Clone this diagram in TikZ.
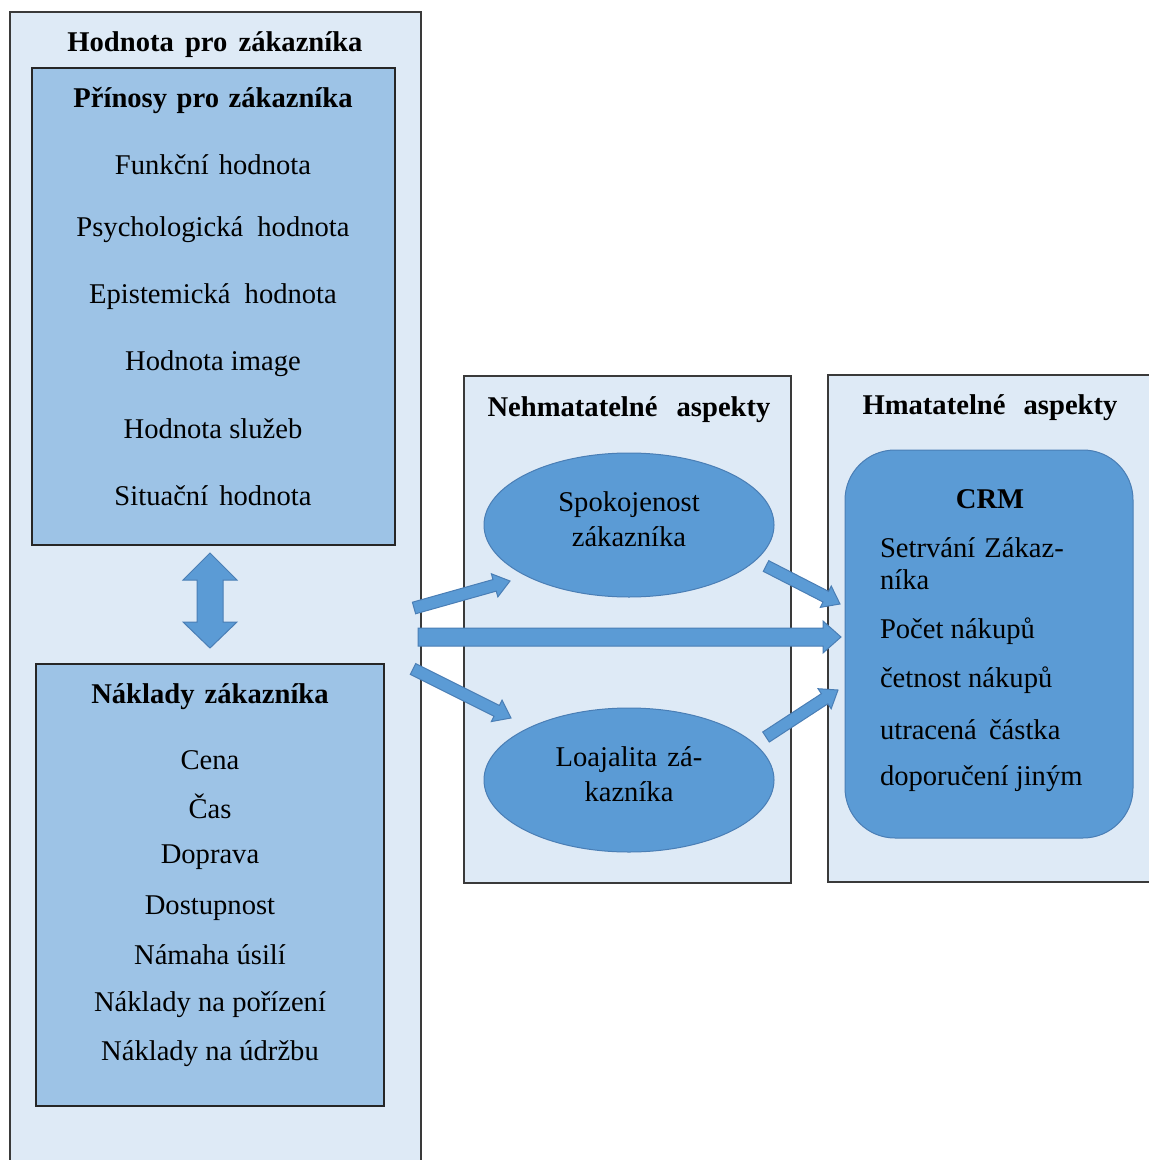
\documentclass[tikz,border=0pt]{standalone}
\usepackage{fontspec}
\setmainfont{Liberation Serif}
\usetikzlibrary{calc,shapes.geometric}

\definecolor{panelfill}{HTML}{DEEAF6}
\definecolor{boxfill}{HTML}{9DC3E6}
\definecolor{accent}{HTML}{5B9BD5}
\definecolor{accentedge}{HTML}{4A7EB5}
\definecolor{frame}{HTML}{3A3A3A}

\tikzset{
  txt/.style={font=\fontsize{14.3}{17.5}\selectfont, inner sep=0pt, outer sep=0pt},
  head/.style={font=\fontsize{14.3}{17.5}\selectfont\bfseries, inner sep=0pt, outer sep=0pt},
  panel/.style={draw=frame, line width=1pt, fill=panelfill, inner sep=0pt, outer sep=0pt, anchor=north west},
  listbox/.style={draw=black!85, line width=1pt, fill=boxfill, inner sep=0pt, outer sep=0pt, anchor=north west},
  blob/.style={draw=accentedge, line width=0.5pt, fill=accent, inner sep=0pt, outer sep=0pt},
  blockarrow/.style={draw=accentedge, line width=0.5pt, fill=accent, line join=miter},
}

% widened inter-word gap, as in justified lines
\newcommand{\wsp}[1]{\hspace{#1}\ }

% block arrow from #1 to #2: shaft half width #3, head half width #4, head length #5
\newcommand{\flowarrow}[5]{%
  \coordinate (fa-base) at ($(#2)!#5!(#1)$);
  \draw[blockarrow] ($(#1)!#3!90:(#2)$) -- ($(fa-base)!#3!90:(#2)$)
    -- ($(fa-base)!#4!90:(#2)$) -- (#2) -- ($(fa-base)!#4!-90:(#2)$)
    -- ($(fa-base)!#3!-90:(#2)$) -- ($(#1)!#3!-90:(#2)$) -- cycle;
}

\begin{document}
\begin{tikzpicture}[x=0.5pt, y=-0.5pt]
\useasboundingbox (0,0) rectangle (1149,1160);
\clip (0,0) rectangle (1149,1160);

% left panel: value for the customer
\node[panel, minimum width=205.5pt, minimum height=590pt] (value) at (10,12) {};
\node[head] (valuetitle) at (215,45) {Hodnota\wsp{2pt}pro\wsp{2pt}zákazníka};

\node[listbox, minimum width=181.5pt, minimum height=238.5pt] (benefits) at (32,68) {};
\node[head] (benefitstitle) at (213,101) {Přínosy\wsp{1.2pt}pro\wsp{1.2pt}zákazníka};
\foreach \t/\y [count=\k] in {Funkční\wsp{1.5pt}hodnota/165, Psychologická\wsp{3.5pt}hodnota/230,
    Epistemická\wsp{3.5pt}hodnota/297, Hodnota image/364, Hodnota služeb/429,
    Situační\wsp{2pt}hodnota/496}
  \node[txt] (ben\k) at (213,\y) {\t};

% two-way arrow between benefits and costs
\coordinate (dtop) at (210,553);
\coordinate (dbot) at (210,648);
\draw[blockarrow] (dtop) -- (237,580) -- (223,580) -- (223,622) -- (237,622) -- (dbot)
  -- (183,622) -- (197,622) -- (197,580) -- (183,580) -- cycle;

\node[listbox, minimum width=174pt, minimum height=221pt] (costs) at (36,664) {};
\node[head] (coststitle) at (210,697) {Náklady\wsp{1.5pt}zákazníka};
\foreach \t/\y [count=\k] in {Cena/760, Čas/806, Doprava/857, Dostupnost/908,
    Námaha úsilí/955, Náklady na pořízení/1005, Náklady na údržbu/1054}
  \node[txt] (cost\k) at (210,\y) {\t};

% middle panel: intangible aspects
\node[panel, minimum width=163.5pt, minimum height=253.5pt] (intang) at (464,376) {};
\node[head] (intangtitle) at (629,410) {Nehmatatelné\wsp{6pt}aspekty};
\node[blob, ellipse, minimum width=145pt, minimum height=72pt] (satisf) at (629,525) {};
\node[txt, align=center] (satisftext) at (629,519) {Spokojenost\\zákazníka};
\node[blob, ellipse, minimum width=145pt, minimum height=72pt] (loyal) at (629,780) {};
\node[txt, align=center] (loyaltext) at (629,774) {Loajalita\wsp{1.5pt}zá-\\kazníka};

% right panel: tangible aspects
\node[panel, minimum width=171pt, minimum height=253.5pt] (tang) at (828,375) {};
\node[head] (tangtitle) at (990,408) {Hmatatelné\wsp{5.5pt}aspekty};
\node[blob, rounded corners=25pt, minimum width=144pt, minimum height=194pt] (crm) at (989,644) {};
\node[head] (crmtitle) at (990,499) {CRM};
\foreach \t/\y [count=\k] in {Setrvání\wsp{1pt}Zákaz-/548, níka/580, Počet nákupů/631,
    četnost nákupů/680, utracená\wsp{2.5pt}částka/730, doporučení jiným/779}
  \node[txt, anchor=west] (crm\k) at (880,\y) {\t};

% flows between the panels
\coordinate (a1s) at (414,608); \coordinate (a1e) at (510,581);
\coordinate (a2s) at (418,637); \coordinate (a2e) at (841,637);
\coordinate (a3s) at (413,669); \coordinate (a3e) at (511,718);
\coordinate (a4s) at (766,566); \coordinate (a4e) at (840,604);
\coordinate (a5s) at (766,737); \coordinate (a5e) at (838,690);
\flowarrow{a1s}{a1e}{3pt}{6pt}{8pt}
\flowarrow{a2s}{a2e}{4.5pt}{8pt}{9pt}
\flowarrow{a3s}{a3e}{3pt}{6pt}{8pt}
\flowarrow{a4s}{a4e}{3pt}{6pt}{8pt}
\flowarrow{a5s}{a5e}{3pt}{6pt}{8pt}
\end{tikzpicture}
\end{document}
